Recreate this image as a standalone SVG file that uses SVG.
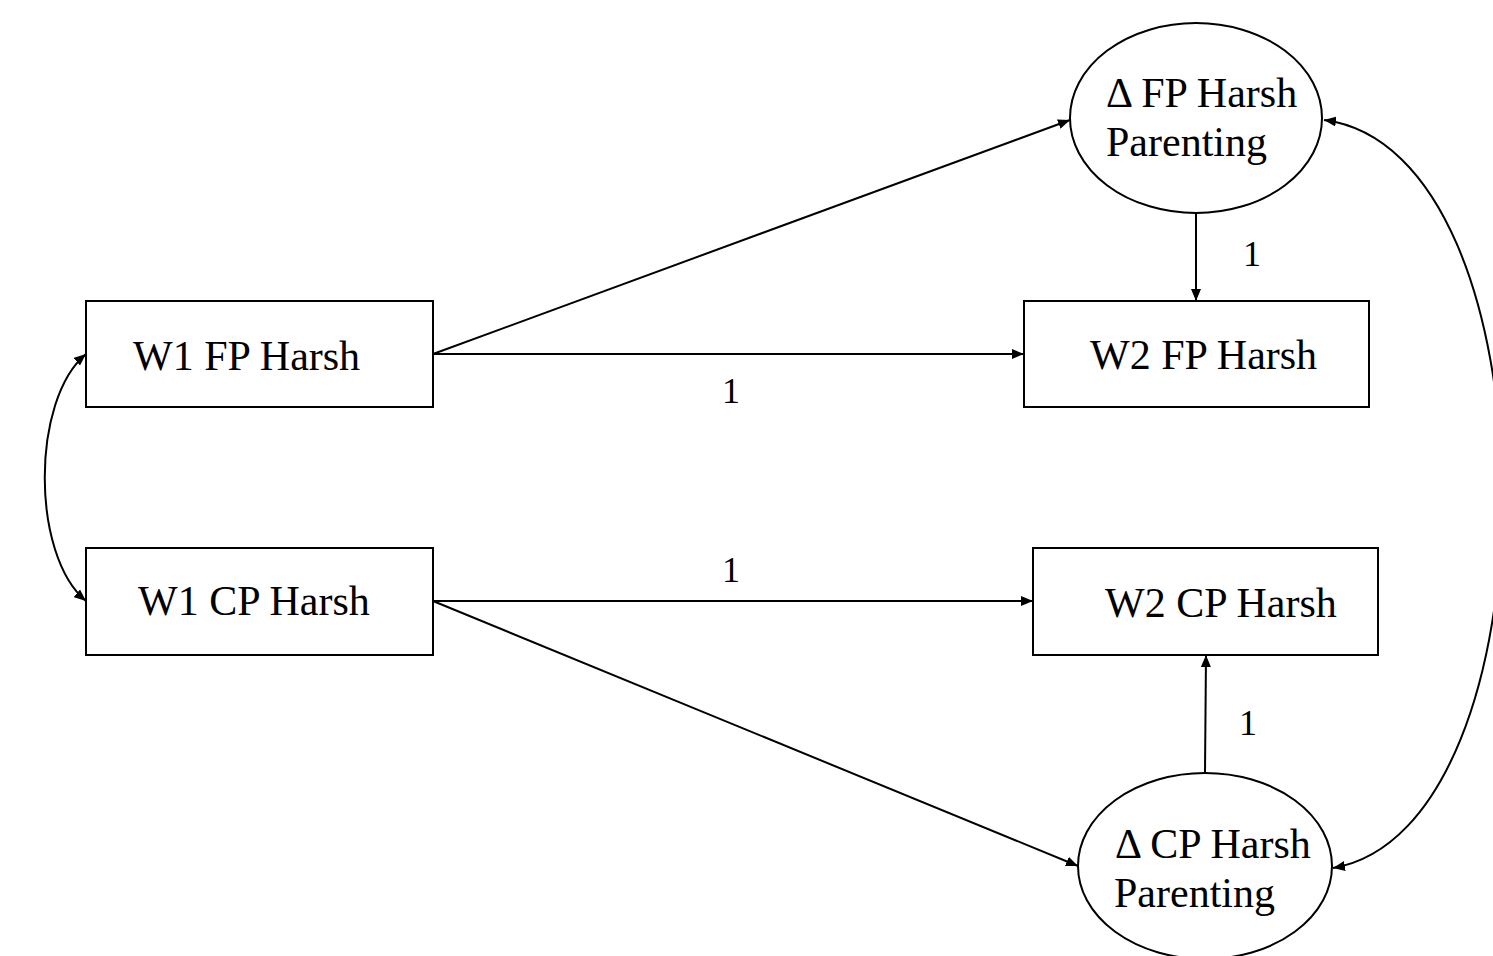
<svg xmlns="http://www.w3.org/2000/svg" width="1493" height="956" viewBox="0 0 1493 956">
<style>
.box{fill:#fff;stroke:#000;stroke-width:2}
.ell{fill:#fff;stroke:#000;stroke-width:2}
text{font-family:'Liberation Serif',serif;fill:#000}
.lbl{font-size:42px}
.num{font-size:36px;text-anchor:middle}
.con{fill:none;stroke:#000;stroke-width:2}
</style>
<defs>
<marker id="ah" markerUnits="userSpaceOnUse" markerWidth="12" markerHeight="10" refX="12" refY="5" orient="auto-start-reverse" viewBox="0 0 12 10">
<path d="M0,0 L12,5 L0,10 Z" fill="#000"/>
</marker>
</defs>
<rect width="1493" height="956" fill="#fff"/>
<g id="connectors">
<line class="con" x1="433" y1="354" x2="1070" y2="120" marker-end="url(#ah)"/>
<line class="con" x1="433" y1="354" x2="1024" y2="354" marker-end="url(#ah)"/>
<line class="con" x1="433" y1="601" x2="1033" y2="601" marker-end="url(#ah)"/>
<line class="con" x1="433" y1="601" x2="1078" y2="866" marker-end="url(#ah)"/>
<line class="con" x1="1196" y1="213" x2="1196" y2="301" marker-end="url(#ah)"/>
<line class="con" x1="1205" y1="773" x2="1206" y2="655" marker-end="url(#ah)"/>
<path class="con" d="M86,354 C31,400 31,555 86,601" marker-start="url(#ah)" marker-end="url(#ah)"/>
<path class="con" d="M1324,120 C1560,150 1560,830 1333,868" marker-start="url(#ah)" marker-end="url(#ah)"/>
<text class="num" x="1252" y="266">1</text>
<text class="num" x="731" y="403">1</text>
<text class="num" x="731" y="582">1</text>
<text class="num" x="1248" y="735">1</text>
</g>
<g id="w1fp">
<rect class="box" x="86" y="301" width="347" height="106"/>
<text class="lbl" x="133" y="370">W1 FP Harsh</text>
</g>
<g id="w1cp">
<rect class="box" x="86" y="548" width="347" height="107"/>
<text class="lbl" x="138" y="615">W1 CP Harsh</text>
</g>
<g id="w2fp">
<rect class="box" x="1024" y="301" width="345" height="106"/>
<text class="lbl" x="1090" y="369">W2 FP Harsh</text>
</g>
<g id="w2cp">
<rect class="box" x="1033" y="548" width="345" height="107"/>
<text class="lbl" x="1105" y="617">W2 CP Harsh</text>
</g>
<g id="dfp">
<ellipse class="ell" cx="1196" cy="118" rx="126" ry="95"/>
<text class="lbl" x="1106" y="107">Δ FP Harsh</text>
<text class="lbl" x="1106" y="156">Parenting</text>
</g>
<g id="dcp">
<ellipse class="ell" cx="1205" cy="866" rx="127" ry="93"/>
<text class="lbl" x="1115" y="858">Δ CP Harsh</text>
<text class="lbl" x="1114" y="907">Parenting</text>
</g>
</svg>
